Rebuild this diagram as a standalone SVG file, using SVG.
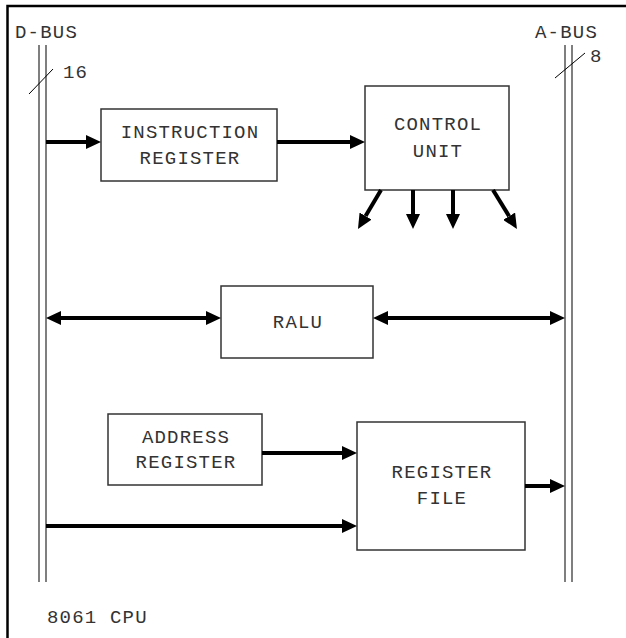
<svg xmlns="http://www.w3.org/2000/svg" width="626" height="638" viewBox="0 0 626 638">
  <style>
    .frame { fill: none; stroke: #000; stroke-width: 2.5; }
    .bus { stroke: #555; stroke-width: 1.5; fill: none; }
    .tick { stroke: #000; stroke-width: 1; fill: none; }
    .box { fill: #fff; stroke: #333; stroke-width: 1.5; }
    .lbl { font-family: "Liberation Mono", "DejaVu Sans Mono", monospace; font-size: 19px; letter-spacing: 1.2px; fill: #333; }
    .c { text-anchor: middle; }
    .wire { stroke: #000; stroke-width: 4; fill: none; }
  </style>
  <defs>
    <marker id="head" markerUnits="userSpaceOnUse" markerWidth="15" markerHeight="14" refX="0" refY="7" orient="auto-start-reverse" viewBox="0 0 15 14">
      <path d="M0,0 L15,7 L0,14 z" fill="#000"/>
    </marker>
  </defs>

  <rect width="626" height="638" fill="#fff"/>
  <!-- outer frame, open to the right and bottom edges -->
  <rect class="frame" x="7.5" y="6" width="640" height="660"/>

  <!-- buses -->
  <g id="d-bus">
    <line class="bus" x1="39" y1="45" x2="39" y2="582"/>
    <line class="bus" x1="46" y1="45" x2="46" y2="582"/>
    <line class="tick" x1="29" y1="94" x2="53" y2="69"/>
    <text class="lbl" x="15" y="38">D-BUS</text>
    <text class="lbl" x="63" y="78">16</text>
  </g>
  <g id="a-bus">
    <line class="bus" x1="565" y1="45" x2="565" y2="582"/>
    <line class="bus" x1="572" y1="45" x2="572" y2="582"/>
    <line class="tick" x1="555" y1="78" x2="585" y2="53"/>
    <text class="lbl" x="535" y="38">A-BUS</text>
    <text class="lbl" x="590" y="62">8</text>
  </g>

  <!-- functional blocks -->
  <g id="instruction-register">
    <rect class="box" x="101" y="109" width="176" height="72"/>
    <text class="lbl c" x="190" y="138">INSTRUCTION</text>
    <text class="lbl c" x="190" y="164">REGISTER</text>
  </g>
  <g id="control-unit">
    <rect class="box" x="365" y="86" width="144" height="104"/>
    <text class="lbl c" x="438" y="130">CONTROL</text>
    <text class="lbl c" x="438" y="157">UNIT</text>
  </g>
  <g id="ralu">
    <rect class="box" x="221" y="286" width="152" height="72"/>
    <text class="lbl c" x="298" y="328">RALU</text>
  </g>
  <g id="address-register">
    <rect class="box" x="108" y="414" width="154" height="71"/>
    <text class="lbl c" x="186" y="443">ADDRESS</text>
    <text class="lbl c" x="186" y="468">REGISTER</text>
  </g>
  <g id="register-file">
    <rect class="box" x="357" y="422" width="168" height="128"/>
    <text class="lbl c" x="442" y="478">REGISTER</text>
    <text class="lbl c" x="442" y="504">FILE</text>
  </g>

  <!-- connectors -->
  <g id="connectors">
    <line class="wire" x1="46" y1="142" x2="86" y2="142" marker-end="url(#head)"/>
    <line class="wire" x1="277" y1="142" x2="350" y2="142" marker-end="url(#head)"/>
    <line class="wire" x1="381" y1="190" x2="365.6" y2="216.1" marker-end="url(#head)"/>
    <line class="wire" x1="413" y1="190" x2="413" y2="214" marker-end="url(#head)"/>
    <line class="wire" x1="453" y1="190" x2="453" y2="214" marker-end="url(#head)"/>
    <line class="wire" x1="493" y1="190" x2="509.1" y2="216.2" marker-end="url(#head)"/>
    <line class="wire" x1="61" y1="318" x2="206" y2="318" marker-start="url(#head)" marker-end="url(#head)"/>
    <line class="wire" x1="388" y1="318" x2="550" y2="318" marker-start="url(#head)" marker-end="url(#head)"/>
    <line class="wire" x1="262" y1="453" x2="342" y2="453" marker-end="url(#head)"/>
    <line class="wire" x1="46" y1="526" x2="342" y2="526" marker-end="url(#head)"/>
    <line class="wire" x1="525" y1="486" x2="550" y2="486" marker-end="url(#head)"/>
  </g>

  <text class="lbl" x="47" y="623">8061 CPU</text>
</svg>
